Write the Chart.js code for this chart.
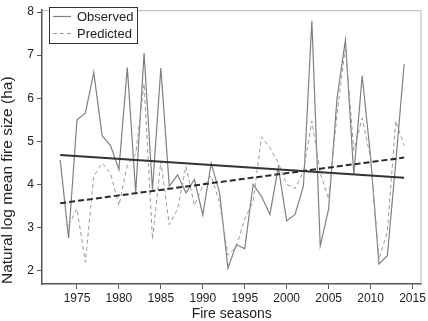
<!DOCTYPE html>
<html>
<head>
<meta charset="utf-8">
<script src="https://cdn.jsdelivr.net/npm/chart.js@4"></script>
<style>
html, body { margin: 0; padding: 0; background: #fff; }
canvas { display: block; }
</style>
</head>
<body>
<canvas id="chart" width="428" height="321"></canvas>
<script>
// fire seasons
const years = [1973, 1974, 1975, 1976, 1977, 1978, 1979, 1980, 1981, 1982,
    1983, 1984, 1985, 1986, 1987, 1988, 1989, 1990, 1991, 1992,
    1993, 1994, 1995, 1996, 1997, 1998, 1999, 2000, 2001, 2002,
    2003, 2004, 2005, 2006, 2007, 2008, 2009, 2010, 2011, 2012,
    2013, 2014];

const observed = [4.56, 2.75, 5.5, 5.65, 6.6, 5.13, 4.9, 4.34, 6.71, 3.81,
    7.05, 3.88, 6.7, 3.96, 4.22, 3.8, 4.11, 3.29, 4.49, 3.8,
    2.05, 2.6, 2.5, 4.0, 3.72, 3.3, 4.4, 3.15, 3.3, 3.96,
    7.8, 2.57, 3.43, 6.0, 7.35, 4.22, 6.52, 4.64, 2.15, 2.34,
    4.5, 6.79];

// predicted starts one season later
const predYears = years.slice(1);
const predicted = [3.05, 3.43, 2.19, 4.19, 4.49, 4.26, 3.5, 4.45, 4.7,
    6.34, 2.72, 4.53, 3.06, 3.43, 4.42, 3.51, 3.96, 4.2, 3.58,
    2.35, 2.55, 3.2, 3.6, 5.1, 4.85, 4.5, 4.0, 3.9, 4.3,
    5.47, 4.26, 3.66, 5.62, 7.2, 4.79, 5.54, 4.6, 2.25, 2.9,
    5.47, 4.9];

// trend line end points
const trendYears = [1973, 2014];
const observedTrend = [4.68, 4.15];
const predictedTrend = [3.56, 4.62];

const xTicks = [1975, 1980, 1985, 1990, 1995, 2000, 2005, 2010, 2015];
const yTicks = [2, 3, 4, 5, 6, 7, 8];

const FONT = "'Liberation Sans', Arial, sans-serif";
const axisColor = "#555";

function pts(xs, ys) {
    return xs.map((x, i) => ({ x: x, y: ys[i] }));
}

// top/right frame + legend box
const framePlugin = {
    id: "frame",
    beforeDatasetsDraw(chart) {
        const { ctx, chartArea: a } = chart;
        ctx.save();
        ctx.strokeStyle = "#b5b5b5";
        ctx.lineWidth = 1;
        ctx.beginPath();
        ctx.moveTo(a.left, a.top + 0.5);
        ctx.lineTo(a.right - 0.5, a.top + 0.5);
        ctx.lineTo(a.right - 0.5, a.bottom);
        ctx.stroke();
        ctx.restore();
    },
    afterDatasetsDraw(chart) {
        const ctx = chart.ctx;
        const x0 = 49.5, y0 = 7.5, w = 88, h = 36;
        ctx.save();
        ctx.fillStyle = "#fff";
        ctx.fillRect(x0, y0, w, h);
        ctx.strokeStyle = "#333";
        ctx.lineWidth = 1;
        ctx.strokeRect(x0, y0, w, h);

        ctx.strokeStyle = "#808080";
        ctx.lineWidth = 1.2;
        ctx.beginPath();
        ctx.moveTo(53, 16.5);
        ctx.lineTo(71, 16.5);
        ctx.stroke();

        ctx.strokeStyle = "#9a9a9a";
        ctx.lineWidth = 1;
        ctx.setLineDash([4, 3]);
        ctx.beginPath();
        ctx.moveTo(53, 33.5);
        ctx.lineTo(71, 33.5);
        ctx.stroke();
        ctx.setLineDash([]);

        ctx.fillStyle = "#222";
        ctx.font = "13px " + FONT;
        ctx.textBaseline = "middle";
        ctx.textAlign = "left";
        ctx.fillText("Observed", 77, 17);
        ctx.fillText("Predicted", 77, 34);
        ctx.restore();
    },
};

new Chart(document.getElementById("chart"), {
    type: "line",
    data: {
        datasets: [
            {
                label: "Observed trend",
                data: pts(trendYears, observedTrend),
                borderColor: "#333",
                borderWidth: 2,
                pointRadius: 0,
                order: 0,
            },
            {
                label: "Predicted trend",
                data: pts(trendYears, predictedTrend),
                borderColor: "#2a2a2a",
                borderWidth: 2,
                borderDash: [6, 3],
                pointRadius: 0,
                order: 1,
            },
            {
                label: "Observed",
                data: pts(years, observed),
                borderColor: "#808080",
                borderWidth: 1.2,
                pointRadius: 0,
                tension: 0,
                order: 3,
            },
            {
                label: "Predicted",
                data: pts(predYears, predicted),
                borderColor: "#9a9a9a",
                borderWidth: 1,
                borderDash: [4, 3],
                pointRadius: 0,
                tension: 0,
                order: 2,
            },
        ],
    },
    options: {
        responsive: false,
        animation: false,
        layout: { padding: { top: 3, right: 6, left: 0, bottom: 0 } },
        plugins: {
            legend: { display: false },
            tooltip: { enabled: false },
        },
        scales: {
            x: {
                type: "linear",
                min: 1970.83,
                max: 2016.07,
                afterBuildTicks: (s) => {
                    s.ticks = xTicks.map((v) => ({ value: v }));
                },
                afterFit: (s) => {
                    s.height = 37;
                },
                grid: {
                    drawOnChartArea: false,
                    drawTicks: true,
                    tickLength: 5,
                    color: axisColor,
                },
                border: { display: true, color: axisColor, width: 1.5 },
                ticks: {
                    color: "#222",
                    font: { size: 12, family: FONT },
                    padding: 2,
                    maxRotation: 0,
                    autoSkip: false,
                    callback: (v) => String(v),
                },
                title: {
                    display: true,
                    text: "Fire seasons",
                    color: "#222",
                    font: { size: 14, family: FONT, lineHeight: 1 },
                    padding: 0,
                },
            },
            y: {
                min: 1.683,
                max: 8.045,
                afterBuildTicks: (s) => {
                    s.ticks = yTicks.map((v) => ({ value: v }));
                },
                afterFit: (s) => {
                    s.width = 42;
                },
                grid: {
                    drawOnChartArea: false,
                    drawTicks: true,
                    tickLength: 5,
                    color: axisColor,
                },
                border: { display: true, color: axisColor, width: 1.5 },
                ticks: {
                    color: "#222",
                    font: { size: 12, family: FONT },
                    padding: 3,
                    callback: (v) => String(v),
                },
                title: {
                    display: true,
                    text: "Natural log mean fire size (ha)",
                    align: "start",
                    color: "#222",
                    font: { size: 15.5, family: FONT, lineHeight: 1 },
                    padding: 0,
                },
            },
        },
    },
    plugins: [framePlugin],
});
</script>
</body>
</html>
